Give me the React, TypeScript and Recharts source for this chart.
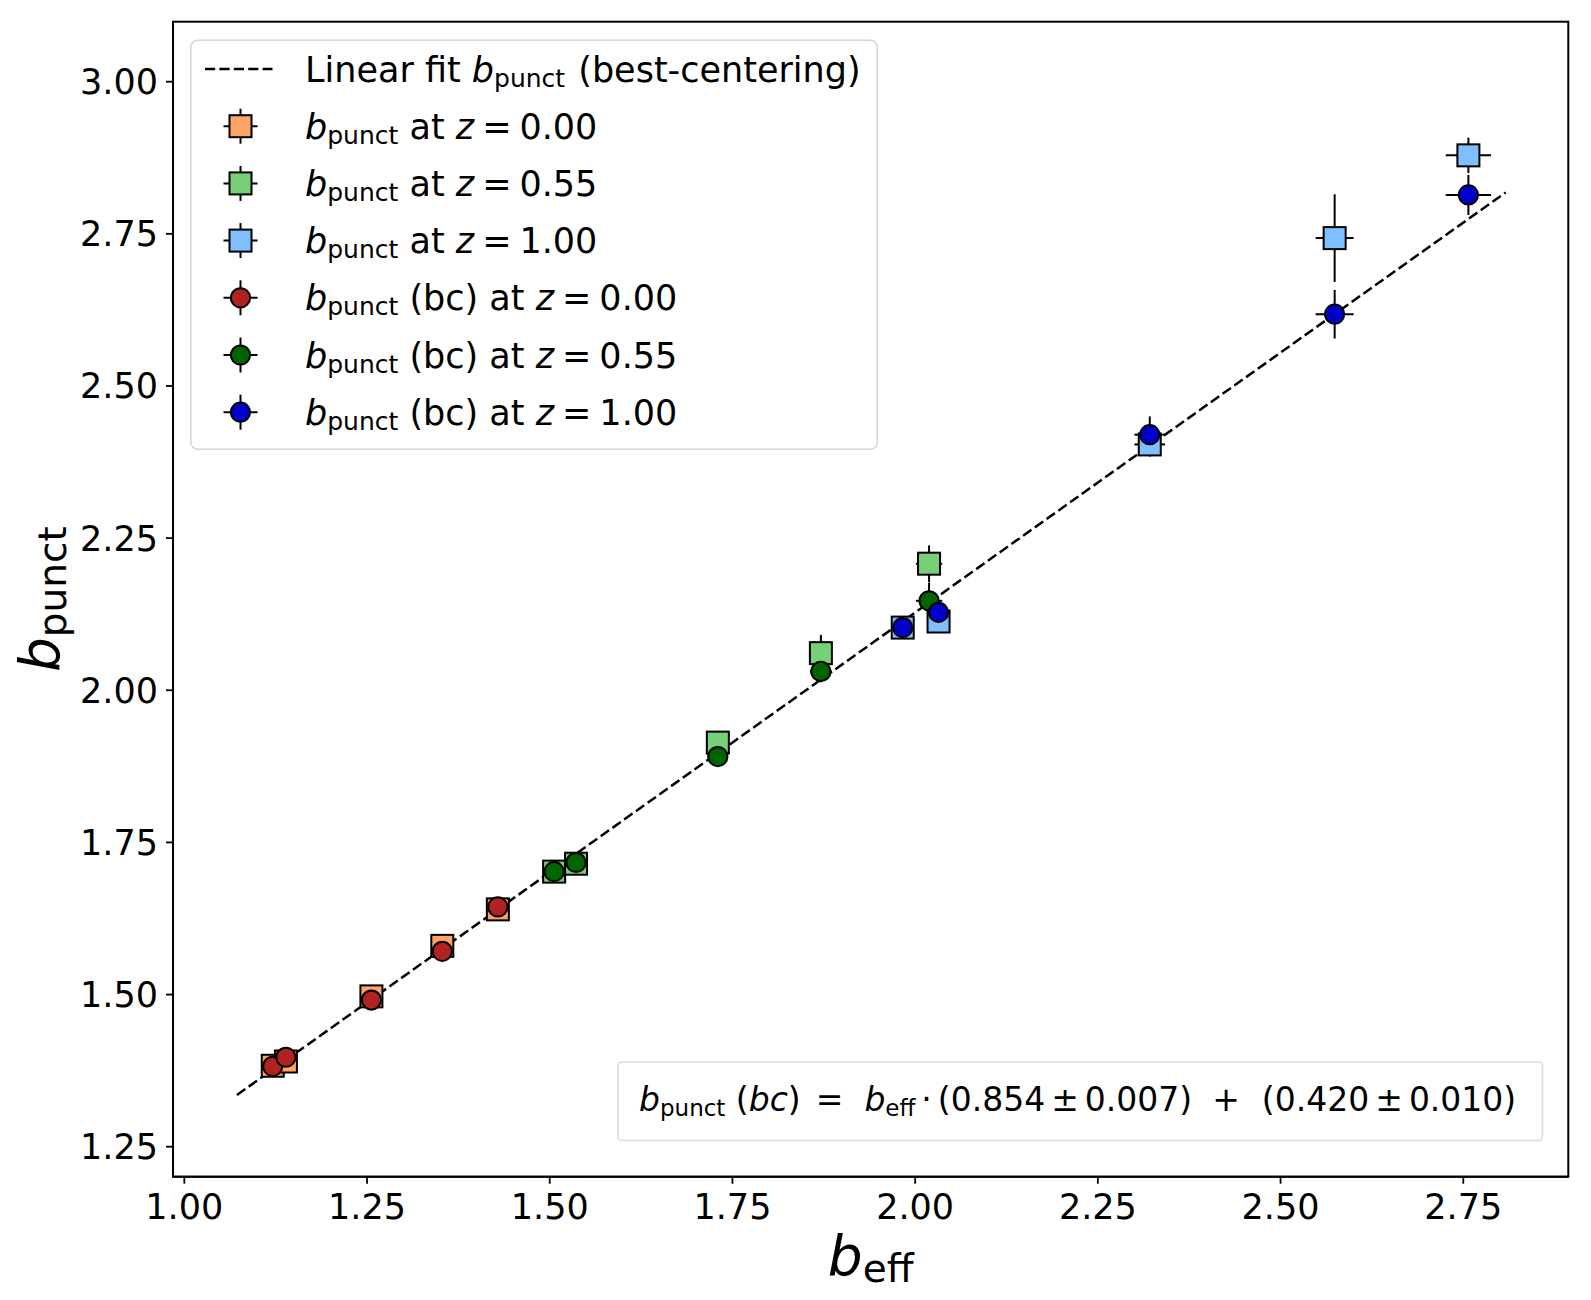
import React from 'react';
import { ScatterChart, Scatter, XAxis, YAxis, ErrorBar, Legend, Label } from 'recharts';

// ---- data ----
const xTicks = [1.0, 1.25, 1.5, 1.75, 2.0, 2.25, 2.5, 2.75];
const yTicks = [1.25, 1.5, 1.75, 2.0, 2.25, 2.5, 2.75, 3.0];

// z = 0.00
const beffZ000 = [1.121, 1.139, 1.256, 1.353, 1.429];
const bpZ000 = [1.383, 1.390, 1.497, 1.580, 1.640];
const bpBcZ000 = [1.382, 1.397, 1.491, 1.571, 1.644];
const exZ000 = [0.010, 0.010, 0.010, 0.010, 0.010];
const eyZ000 = [0.012, 0.012, 0.012, 0.012, 0.012];
const eyBcZ000 = [0.012, 0.012, 0.012, 0.012, 0.012];

// z = 0.55
const beffZ055 = [1.506, 1.536, 1.730, 1.871, 2.019];
const bpZ055 = [1.702, 1.715, 1.914, 2.061, 2.208];
const bpBcZ055 = [1.702, 1.717, 1.891, 2.031, 2.147];
const exZ055 = [0.012, 0.012, 0.014, 0.015, 0.018];
const eyZ055 = [0.014, 0.014, 0.016, 0.030, 0.030];
const eyBcZ055 = [0.014, 0.014, 0.016, 0.018, 0.030];

// z = 1.00
const beffZ100 = [1.983, 2.032, 2.321, 2.574, 2.757];
const bpZ100 = [2.103, 2.113, 2.404, 2.743, 2.879];
const bpBcZ100 = [2.103, 2.128, 2.420, 2.618, 2.814];
const exZ100 = [0.014, 0.016, 0.021, 0.026, 0.031];
const eyZ100 = [0.014, 0.016, 0.020, 0.072, 0.029];
const eyBcZ100 = [0.014, 0.016, 0.030, 0.040, 0.033];

// linear fit (best-centering), endpoints
const fitX = [1.072, 2.808];
const fitY = [1.335, 2.818];

const xDomain = [0.9845, 2.8937];
const yDomain = [1.2007, 3.0986];

const FONT = 'DejaVu Sans';
const C_SQ0 = '#FFA366';
const C_SQ055 = '#77D077';
const C_SQ100 = '#80BFFF';
const C_C0 = '#B22222';
const C_C055 = '#006400';
const C_C100 = '#0000CD';

const zip = (xs: number[], ys: number[], ex: number[], ey: number[]) =>
  xs.map((x, i) => ({ x, y: ys[i], ex: ex[i], ey: ey[i] }));

const sq000 = zip(beffZ000, bpZ000, exZ000, eyZ000);
const sq055 = zip(beffZ055, bpZ055, exZ055, eyZ055);
const sq100 = zip(beffZ100, bpZ100, exZ100, eyZ100);
const c000 = zip(beffZ000, bpBcZ000, exZ000, eyBcZ000);
const c055 = zip(beffZ055, bpBcZ055, exZ055, eyBcZ055);
const c100 = zip(beffZ100, bpBcZ100, exZ100, eyBcZ100);
const fitData = fitX.map((x, i) => ({ x, y: fitY[i] }));

const SQ = 22;
const R = 9.6;

// plot frame (pixels)
const PL = 173, PT = 21.7, PR = 1568.3, PB = 1176.7;

const squareShape = (fill: string) => (props: any) => {
  const { cx, cy } = props;
  if (cx == null || cy == null) return <g />;
  return <rect x={cx - SQ / 2} y={cy - SQ / 2} width={SQ} height={SQ} fill={fill} stroke="#000" strokeWidth={2} />;
};
const circleShape = (fill: string) => (props: any) => {
  const { cx, cy } = props;
  if (cx == null || cy == null) return <g />;
  return <circle cx={cx} cy={cy} r={R} fill={fill} stroke="#000" strokeWidth={2} />;
};
const noShape = () => <g />;

const subStyle = { fontSize: 25 };

const legendRows = [
  { type: 'sq', fill: C_SQ0, bc: false, z: '0.00' },
  { type: 'sq', fill: C_SQ055, bc: false, z: '0.55' },
  { type: 'sq', fill: C_SQ100, bc: false, z: '1.00' },
  { type: 'c', fill: C_C0, bc: true, z: '0.00' },
  { type: 'c', fill: C_C055, bc: true, z: '0.55' },
  { type: 'c', fill: C_C100, bc: true, z: '1.00' },
];

const renderLegend = () => {
  const rowY0 = 69;
  const step = 57.2;
  const mx = 240.5;
  const tx = 305;
  const af = 33;
  const asub = 23;
  return (
    <svg width={1591} height={1300} style={{ position: 'absolute', left: 0, top: 0, overflow: 'visible', pointerEvents: 'none' }}>
      <rect x={PL} y={PT} width={PR - PL} height={PB - PT} fill="none" stroke="#000" strokeWidth={2} />
      <g fontFamily={FONT} style={{ whiteSpace: 'pre' }}>
        <rect x={190.8} y={40.3} width={686.5} height={409} rx={7} ry={7} fill="#fff" fillOpacity={0.8} stroke="#d6d6d6" strokeWidth={1.6} />
        <line x1={205} y1={rowY0} x2={272.5} y2={rowY0} stroke="#000" strokeWidth={2.5} strokeDasharray="10.2 4.2" />
        <text x={tx} y={rowY0 + 12.5} fontSize={35} fill="#000">
          {'Linear fit '}
          <tspan fontStyle="italic">b</tspan>
          <tspan {...subStyle} dy={5}>punct</tspan>
          <tspan dy={-5} dx={2}>{' (best-centering)'}</tspan>
        </text>
        {legendRows.map((r, i) => {
          const cy = rowY0 + step * (i + 1);
          return (
            <g key={i}>
              <line x1={mx - 17} y1={cy} x2={mx + 17} y2={cy} stroke="#000" strokeWidth={2} />
              <line x1={mx} y1={cy - 17.5} x2={mx} y2={cy + 17.5} stroke="#000" strokeWidth={2} />
              {r.type === 'sq' ? (
                <rect x={mx - SQ / 2} y={cy - SQ / 2} width={SQ} height={SQ} fill={r.fill} stroke="#000" strokeWidth={2} />
              ) : (
                <circle cx={mx} cy={cy} r={R} fill={r.fill} stroke="#000" strokeWidth={2} />
              )}
              <text x={tx} y={cy + 12.5} fontSize={35} fill="#000">
                <tspan fontStyle="italic">b</tspan>
                <tspan {...subStyle} dy={5}>punct</tspan>
                <tspan dy={-5}>{r.bc ? ' (bc) at ' : ' at '}</tspan>
                <tspan fontStyle="italic">z</tspan>
                <tspan dx={8}>=</tspan>
                <tspan dx={8}>{r.z}</tspan>
              </text>
            </g>
          );
        })}
        <rect x={618} y={1062} width={924.5} height={78.5} rx={4} ry={4} fill="#fff" fillOpacity={0.8} stroke="#dcdcdc" strokeWidth={1.6} />
        <text x={639} y={1111} fontSize={af} fill="#000">
          <tspan fontStyle="italic">b</tspan>
          <tspan fontSize={asub} dy={4.5}>punct</tspan>
          <tspan dy={-4.5}>{' ('}</tspan>
          <tspan fontStyle="italic">bc</tspan>
          <tspan>)</tspan>
          <tspan dx={15}>=</tspan>
          <tspan dx={21} fontStyle="italic">b</tspan>
          <tspan fontSize={asub} dy={4.5}>eff</tspan>
          <tspan dy={-4.5} dx={6}>·</tspan>
          <tspan dx={6}>(0.854</tspan>
          <tspan dx={6}>±</tspan>
          <tspan dx={6}>0.007)</tspan>
          <tspan dx={20}>+</tspan>
          <tspan dx={22}>(0.420</tspan>
          <tspan dx={6}>±</tspan>
          <tspan dx={6}>0.010)</tspan>
        </text>
      </g>
    </svg>
  );
};

const XLabel = (props: any) => {
  const vb = props.viewBox || { x: 173, y: 1177, width: 1395, height: 123 };
  const cx = vb.x + vb.width / 2;
  return (
    <text x={cx} y={vb.y + 98.3} textAnchor="middle" fontFamily={FONT} fontSize={55} fill="#000">
      <tspan fontStyle="italic">b</tspan>
      <tspan fontSize={39} dy={7}>eff</tspan>
    </text>
  );
};

const YLabel = (props: any) => {
  const vb = props.viewBox || { x: 0, y: 21.7, width: 173, height: 1155 };
  const cy = vb.y + vb.height / 2;
  const x = 59;
  return (
    <text x={x} y={cy} textAnchor="middle" transform={`rotate(-90, ${x}, ${cy})`} fontFamily={FONT} fontSize={55} fill="#000">
      <tspan fontStyle="italic">b</tspan>
      <tspan fontSize={39} dy={7}>punct</tspan>
    </text>
  );
};

const tickStyle = { fontSize: 35, fill: '#000', fontFamily: FONT };

export default function App() {
  return (
    <div style={{ position: 'absolute', left: 0, top: 0, width: 1591, height: 1300, background: '#fff' }}>
      <ScatterChart
        width={1591}
        height={1300}
        margin={{ top: PT, right: 1591 - PR, bottom: 0, left: 0 }}
        style={{ fontFamily: FONT }}
      >
        <XAxis
          type="number"
          dataKey="x"
          domain={xDomain}
          allowDataOverflow
          ticks={xTicks}
          tickFormatter={(v: number) => v.toFixed(2)}
          height={1300 - PB}
          tick={tickStyle}
          tickSize={7}
          tickMargin={10}
          tickLine={{ stroke: '#000', strokeWidth: 1.8 }}
          axisLine={{ stroke: '#000', strokeWidth: 2 }}
          interval={0}
        >
          <Label content={XLabel} />
        </XAxis>
        <YAxis
          type="number"
          dataKey="y"
          domain={yDomain}
          allowDataOverflow
          ticks={yTicks}
          tickFormatter={(v: number) => v.toFixed(2)}
          width={PL}
          tick={tickStyle}
          tickSize={7}
          tickMargin={8}
          tickLine={{ stroke: '#000', strokeWidth: 1.8 }}
          axisLine={{ stroke: '#000', strokeWidth: 2 }}
          interval={0}
        >
          <Label content={YLabel} />
        </YAxis>
        <Legend
          layout="vertical"
          align="center"
          verticalAlign="middle"
          content={renderLegend}
          wrapperStyle={{ left: 0, top: 0, width: 1591, height: 1300, pointerEvents: 'none' }}
        />
        <Scatter
          name="fit"
          data={fitData}
          line={{ stroke: '#000', strokeWidth: 2.5, strokeDasharray: '10.2 4.2' }}
          lineType="joint"
          shape={noShape}
          isAnimationActive={false}
          legendType="none"
        />
        <Scatter name="sq000" data={sq000} shape={squareShape(C_SQ0)} isAnimationActive={false}>
          <ErrorBar dataKey="ex" direction="x" width={0} stroke="#000" strokeWidth={2} isAnimationActive={false} />
          <ErrorBar dataKey="ey" direction="y" width={0} stroke="#000" strokeWidth={2} isAnimationActive={false} />
        </Scatter>
        <Scatter name="sq055" data={sq055} shape={squareShape(C_SQ055)} isAnimationActive={false}>
          <ErrorBar dataKey="ex" direction="x" width={0} stroke="#000" strokeWidth={2} isAnimationActive={false} />
          <ErrorBar dataKey="ey" direction="y" width={0} stroke="#000" strokeWidth={2} isAnimationActive={false} />
        </Scatter>
        <Scatter name="sq100" data={sq100} shape={squareShape(C_SQ100)} isAnimationActive={false}>
          <ErrorBar dataKey="ex" direction="x" width={0} stroke="#000" strokeWidth={2} isAnimationActive={false} />
          <ErrorBar dataKey="ey" direction="y" width={0} stroke="#000" strokeWidth={2} isAnimationActive={false} />
        </Scatter>
        <Scatter name="c000" data={c000} shape={circleShape(C_C0)} isAnimationActive={false}>
          <ErrorBar dataKey="ex" direction="x" width={0} stroke="#000" strokeWidth={2} isAnimationActive={false} />
          <ErrorBar dataKey="ey" direction="y" width={0} stroke="#000" strokeWidth={2} isAnimationActive={false} />
        </Scatter>
        <Scatter name="c055" data={c055} shape={circleShape(C_C055)} isAnimationActive={false}>
          <ErrorBar dataKey="ex" direction="x" width={0} stroke="#000" strokeWidth={2} isAnimationActive={false} />
          <ErrorBar dataKey="ey" direction="y" width={0} stroke="#000" strokeWidth={2} isAnimationActive={false} />
        </Scatter>
        <Scatter name="c100" data={c100} shape={circleShape(C_C100)} isAnimationActive={false}>
          <ErrorBar dataKey="ex" direction="x" width={0} stroke="#000" strokeWidth={2} isAnimationActive={false} />
          <ErrorBar dataKey="ey" direction="y" width={0} stroke="#000" strokeWidth={2} isAnimationActive={false} />
        </Scatter>
      </ScatterChart>
    </div>
  );
}
